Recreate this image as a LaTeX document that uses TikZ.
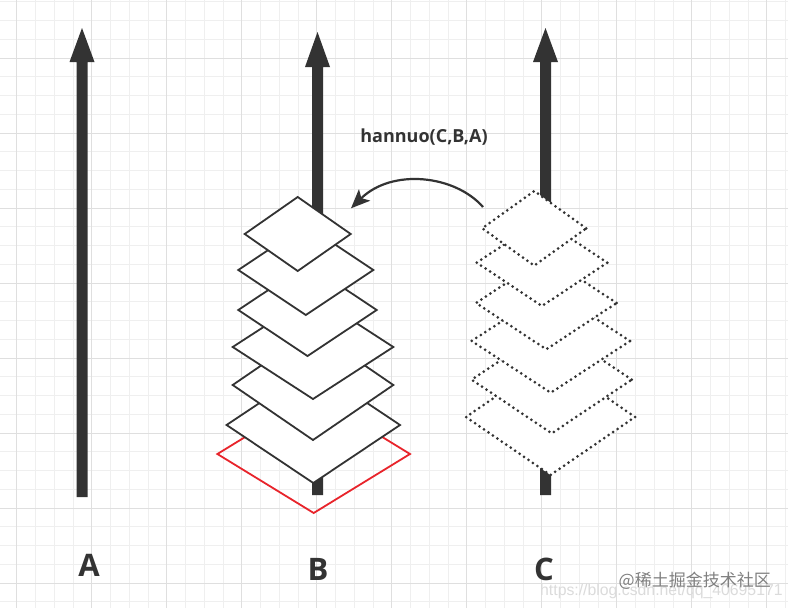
\documentclass[tikz,border=0pt]{standalone}
\usepackage{fontspec}
\setmainfont{Open Sans}
\newfontfamily\cjkfont{Noto Sans CJK SC}
\newfontfamily\urlfont{Liberation Sans}
\usetikzlibrary{shapes.geometric,arrows.meta}
\definecolor{ink}{HTML}{333333}
\definecolor{gridminor}{HTML}{EFEFEF}
\definecolor{gridmajor}{HTML}{DFDFDF}
\definecolor{redline}{HTML}{E8242B}
\newcommand\drawpole[4]{%
  \fill[ink] ({#1-5.5},#4) -- ({#1-5.5},#3) -- ({#1-12.5},#3) -- (#1,#2)
    -- ({#1+12.5},#3) -- ({#1+5.5},#3) -- ({#1+5.5},#4) -- cycle;}
\begin{document}
\begin{tikzpicture}[x=1pt,y=-1pt,
  disk/.style={diamond, draw=ink, line width=1.8pt, fill=white, inner sep=0pt, outer sep=0pt},
  reddisk/.style={diamond, draw=redline, line width=1.8pt, inner sep=0pt, outer sep=0pt},
  dotdisk/.style={diamond, draw=ink, line width=3pt, dash pattern=on 0pt off 5.4pt, line cap=round, fill=white, inner sep=0pt, outer sep=0pt},
  lbl/.style={font=\bfseries\fontsize{31}{31}\selectfont, text=ink, inner sep=0pt},
  callarrow/.style={draw=ink, line width=2.2pt, -{Stealth[length=19pt,width=16pt,inset=4.5pt]}}]
\useasboundingbox (0,0) rectangle (788,608);
\fill[white] (0,0) rectangle (788,608);
% grid
\foreach \k in {-1,...,42} {
  \draw[gridminor, line width=0.9pt] ({16.7+18.75*\k},0) -- ({16.7+18.75*\k},608);
}
\foreach \k in {-5,...,28} {
  \draw[gridminor, line width=0.9pt] (0,{508-18.75*\k}) -- (788,{508-18.75*\k});
}
\foreach \k in {0,...,10} {
  \draw[gridmajor, line width=1pt] ({16.7+75*\k},0) -- ({16.7+75*\k},608);
}
\foreach \k in {-1,...,6} {
  \draw[gridmajor, line width=1pt] (0,{508-75*\k}) -- (788,{508-75*\k});
}
% red bottom disk of B
\node[reddisk, minimum width=192.6pt, minimum height=118pt] (bred) at (313.7,454) {};
% poles
\drawpole{82}{28}{62}{497}
\drawpole{317.5}{32}{67}{495}
\drawpole{545.5}{28}{62}{495}
% B stack
\node[disk, minimum width=173.4pt, minimum height=116pt] (b6) at (313.3,425) {};
\node[disk, minimum width=160.6pt, minimum height=110pt] (b5) at (313,385) {};
\node[disk, minimum width=160.6pt, minimum height=104pt] (b4) at (313,347) {};
\node[disk, minimum width=138.4pt, minimum height=92pt] (b3) at (307.5,310) {};
\node[disk, minimum width=135pt, minimum height=90pt] (b2) at (305.8,270) {};
\node[disk, minimum width=106pt, minimum height=74pt] (b1) at (297.7,234) {};
% C stack (dotted)
\node[dotdisk, minimum width=169pt, minimum height=116pt] (c6) at (550.5,417) {};
\node[dotdisk, minimum width=160pt, minimum height=107.4pt] (c5) at (551.7,379.7) {};
\node[dotdisk, minimum width=158.4pt, minimum height=103.4pt] (c4) at (550.8,341) {};
\node[dotdisk, minimum width=140.6pt, minimum height=92.6pt] (c3) at (546.3,303) {};
\node[dotdisk, minimum width=130.6pt, minimum height=86.6pt] (c2) at (542,262.7) {};
\node[dotdisk, minimum width=104pt, minimum height=74.6pt] (c1) at (534.2,228.3) {};
% move arrow
\coordinate (arrS) at (483,207);
\coordinate (arrE) at (351,208.3);
\draw[callarrow] (arrS) .. controls (455,175) and (392,168) .. (arrE);
\node[font=\bfseries\fontsize{18}{18}\selectfont, text=ink] (call) at (424,137) {hannuo(C,B,A)};
% labels
\node[lbl] (la) at (89,565) {A};
\node[lbl] (lb) at (318,569) {B};
\node[lbl] (lc) at (544,569) {C};
% watermarks
\node[anchor=west, inner sep=0pt, text=black!14, font=\urlfont\fontsize{15.8}{15.8}\selectfont] (url) at (540,591.5) {https://blog.csdn.net/qq\_40695171};
\node[anchor=east, inner sep=0pt, text=black!50, font=\cjkfont\fontsize{17}{17}\selectfont] (wm) at (771,581) {@稀土掘金技术社区};
\end{tikzpicture}
\end{document}
